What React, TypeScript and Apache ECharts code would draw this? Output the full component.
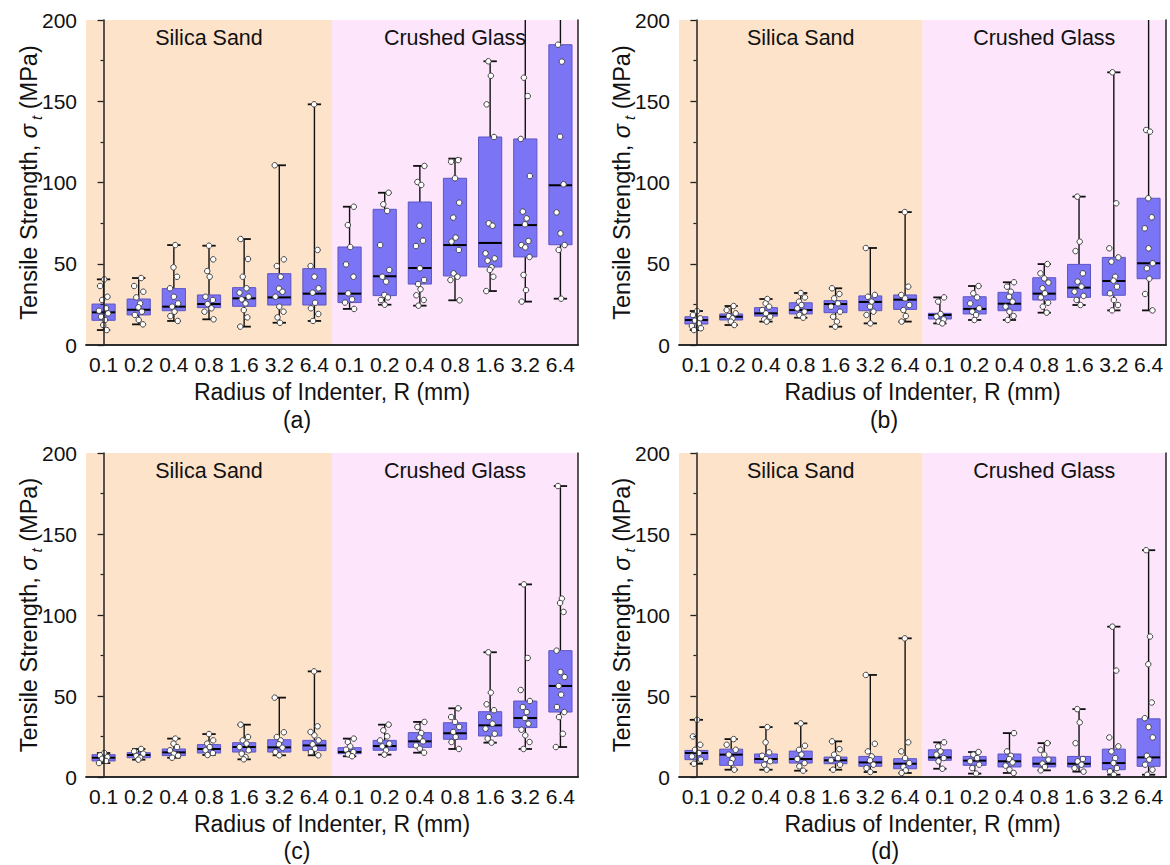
import React, { useEffect, useRef } from 'react';
import * as echarts from 'echarts';

const CATEGORIES = ['0.1', '0.2', '0.4', '0.8', '1.6', '3.2', '6.4', '0.1', '0.2', '0.4', '0.8', '1.6', '3.2', '6.4'];
const REGIONS = ['Silica Sand', 'Crushed Glass'];
const REGION_SPANS = [[-0.5, 6.5], [6.5, 13.5]];
const PANEL_LABELS = ['(a)', '(b)', '(c)', '(d)'];
const X_TITLE = 'Radius of Indenter, R (mm)';
const Y_TITLE_PARTS = ['Tensile Strength, ', 'σ', 't', ' (MPa)'];
const Y_MIN = 0;
const Y_MAX = 200;
const Y_INTERVAL = 50;

// box stats: [min, q1, median, q3, max]
const A_BOX = [
  [9.2, 15.2, 20.1, 25.2, 40.4],
  [12.7, 18.5, 21.7, 28.3, 41.2],
  [14.8, 21.1, 23.6, 34.7, 61.5],
  [15.8, 23.0, 25.2, 30.8, 61.1],
  [11.3, 23.8, 28.7, 35.3, 65.2],
  [13.7, 24.6, 29.3, 43.9, 110.6],
  [14.8, 24.6, 31.6, 47.0, 148.1],
  [22.2, 26.1, 31.6, 60.3, 85.1],
  [24.8, 30.4, 42.3, 83.5, 93.7],
  [24.2, 37.5, 47.4, 88.0, 110.2],
  [27.5, 42.5, 61.5, 102.6, 114.7],
  [33.2, 48.0, 62.8, 128.0, 174.6],
  [26.7, 54.2, 73.8, 126.8, 230],
  [28.5, 61.7, 98.3, 184.8, 240],
];
const A_PTS = [
  [40.4, 36.3, 29.7, 27.7, 22.6, 21.1, 19.5, 17.4, 15.4, 12.3, 9.2],
  [41.2, 36.3, 32.8, 29.3, 25.6, 23.2, 20.5, 18.5, 15.4, 12.7],
  [61.5, 47.8, 42.0, 34.9, 29.7, 25.6, 23.6, 20.5, 17.8, 14.8],
  [61.1, 52.7, 45.5, 42.0, 29.7, 27.7, 25.2, 22.6, 20.5, 15.8],
  [65.2, 52.9, 42.0, 34.9, 32.2, 29.7, 28.1, 25.6, 21.5, 17.0, 11.3],
  [110.6, 52.7, 48.6, 42.0, 34.7, 32.8, 29.7, 23.6, 20.5, 17.0, 13.7],
  [148.1, 58.5, 48.6, 42.0, 34.9, 32.2, 26.0, 22.6, 19.1, 14.8],
  [85.1, 73.8, 60.3, 49.6, 42.0, 31.8, 28.1, 26.1, 22.2],
  [93.7, 86.6, 82.5, 61.5, 46.2, 42.0, 39.0, 30.8, 29.3, 27.7, 24.8],
  [110.2, 100.3, 98.5, 73.4, 64.2, 60.9, 47.2, 40.0, 37.5, 34.3, 30.6, 27.7, 24.2],
  [113.8, 112.8, 102.6, 87.6, 78.4, 66.1, 63.6, 58.5, 44.1, 42.0, 40.0, 27.5],
  [174.6, 165.7, 148.1, 128.0, 74.9, 73.4, 56.4, 53.3, 51.9, 47.8, 46.2, 42.0, 33.2],
  [164.5, 153.2, 126.8, 104.0, 82.1, 77.9, 74.3, 64.0, 61.5, 60.1, 54.2, 43.1, 33.8, 26.7],
  [184.8, 174.4, 128.2, 98.9, 81.6, 68.7, 61.5, 58.5, 28.5],
];

const B_BOX = [
  [9.2, 12.9, 15.4, 17.4, 20.9],
  [12.3, 15.4, 17.4, 19.1, 24.0],
  [14.4, 17.8, 19.5, 23.0, 28.3],
  [16.8, 19.1, 21.5, 26.0, 32.0],
  [11.3, 19.9, 25.2, 27.3, 34.9],
  [13.3, 21.1, 26.5, 30.2, 59.7],
  [14.4, 21.9, 27.9, 30.8, 81.8],
  [13.3, 16.0, 18.5, 19.5, 29.3],
  [15.4, 19.1, 22.2, 29.7, 36.3],
  [15.4, 21.1, 25.4, 32.4, 38.6],
  [19.9, 27.7, 31.6, 41.4, 49.8],
  [24.6, 29.3, 35.3, 49.6, 91.3],
  [21.3, 30.6, 39.4, 53.9, 167.8],
  [21.3, 40.8, 50.3, 90.3, 235],
];
const B_PTS = [
  [20.9, 18.5, 16.4, 15.0, 13.3, 11.7, 10.3, 9.2],
  [24.0, 21.5, 19.5, 17.8, 16.4, 14.4, 12.3],
  [28.3, 25.6, 23.6, 21.5, 19.5, 17.4, 15.8, 14.4],
  [32.0, 29.3, 26.7, 24.6, 22.6, 20.5, 18.5, 16.8],
  [34.9, 31.4, 28.7, 25.6, 23.6, 20.5, 17.4, 14.4, 11.3],
  [59.7, 30.8, 29.7, 26.7, 23.6, 20.5, 18.5, 13.3],
  [81.8, 35.9, 30.8, 28.7, 24.6, 21.5, 17.8, 14.4],
  [29.3, 26.7, 19.1, 17.4, 15.8, 14.4, 13.3],
  [36.3, 31.8, 29.3, 25.6, 22.6, 20.5, 18.5, 15.4],
  [38.6, 35.9, 32.8, 29.7, 26.7, 23.6, 20.5, 17.8, 15.4],
  [49.8, 44.1, 41.0, 38.4, 34.9, 31.8, 29.3, 26.0, 23.6, 19.9],
  [91.3, 63.6, 57.8, 44.1, 39.0, 35.9, 32.8, 30.2, 27.7, 24.6],
  [167.8, 87.2, 59.5, 53.9, 51.3, 42.0, 39.6, 35.9, 31.8, 27.7, 24.6, 21.3],
  [132.3, 131.3, 90.3, 78.6, 71.8, 59.5, 50.3, 47.2, 40.8, 31.4, 21.3],
];

const C_BOX = [
  [8.6, 9.9, 11.9, 13.8, 14.8],
  [10.7, 11.9, 13.6, 15.0, 17.3],
  [11.9, 13.2, 15.2, 17.3, 23.7],
  [13.6, 14.8, 17.3, 20.0, 26.5],
  [10.9, 15.4, 18.5, 21.2, 32.3],
  [13.4, 15.4, 18.3, 23.0, 49.0],
  [13.4, 16.3, 19.5, 22.6, 65.2],
  [12.8, 14.4, 15.4, 18.1, 23.7],
  [13.8, 16.5, 19.1, 22.6, 32.3],
  [15.0, 18.3, 22.0, 27.4, 34.0],
  [17.3, 23.3, 27.0, 33.5, 42.4],
  [21.2, 25.3, 31.9, 40.3, 77.0],
  [17.3, 30.5, 36.4, 46.9, 118.9],
  [18.5, 40.1, 56.2, 78.0, 179.6],
];
const C_PTS = [
  [14.8, 13.4, 12.3, 11.3, 9.9, 8.6],
  [17.3, 15.8, 14.4, 13.0, 11.9, 10.7],
  [23.7, 20.6, 18.5, 16.5, 14.4, 13.2, 11.9],
  [26.5, 22.6, 20.6, 18.5, 16.5, 14.8, 13.6],
  [32.3, 24.7, 22.6, 20.6, 18.5, 16.5, 14.4, 12.3, 10.9],
  [49.0, 27.6, 24.7, 22.6, 20.2, 18.1, 15.4, 13.4],
  [65.2, 31.3, 27.8, 25.7, 22.6, 20.2, 17.5, 15.4, 13.4],
  [23.7, 21.6, 18.9, 16.9, 15.4, 14.0, 12.8],
  [32.3, 28.8, 25.1, 22.6, 20.6, 18.9, 16.5, 13.8],
  [34.0, 30.9, 27.2, 24.3, 22.0, 19.5, 17.5, 15.0],
  [42.4, 37.0, 34.0, 30.9, 27.8, 24.7, 21.6, 17.3],
  [77.0, 52.1, 44.9, 41.2, 37.0, 32.9, 29.8, 26.7, 23.7, 21.2],
  [118.9, 73.5, 53.7, 46.9, 43.2, 40.1, 36.4, 32.9, 29.2, 25.7, 21.6, 17.3],
  [179.6, 110.1, 107.4, 101.9, 78.0, 64.8, 61.7, 56.2, 50.8, 43.2, 40.1, 37.0, 26.7, 18.5],
];

const D_BOX = [
  [8.2, 10.7, 14.8, 16.4, 35.3],
  [4.5, 7.2, 13.8, 17.2, 23.4],
  [4.5, 8.6, 11.1, 14.2, 30.8],
  [3.9, 8.6, 11.1, 16.0, 33.1],
  [4.5, 8.2, 10.3, 12.3, 22.0],
  [3.1, 6.6, 9.0, 12.7, 63.0],
  [2.5, 5.1, 8.2, 11.3, 85.6],
  [5.1, 10.3, 12.1, 16.8, 21.4],
  [2.1, 7.2, 10.1, 12.7, 15.4],
  [2.5, 6.2, 9.7, 14.2, 27.1],
  [4.1, 6.2, 8.2, 12.3, 20.9],
  [3.3, 6.2, 8.2, 12.7, 41.9],
  [1.4, 4.5, 8.6, 17.2, 92.8],
  [1.4, 6.6, 12.1, 35.9, 140.0],
];
const D_PTS = [
  [35.3, 25.0, 19.9, 16.8, 14.8, 12.7, 10.7, 8.2],
  [23.4, 19.9, 16.8, 13.8, 11.1, 8.6, 4.5],
  [30.8, 21.4, 15.2, 13.1, 11.1, 9.7, 7.6, 4.5],
  [33.1, 19.3, 16.8, 13.8, 11.1, 8.6, 6.6, 3.9],
  [22.0, 17.2, 13.8, 11.7, 10.3, 7.6, 4.5],
  [63.0, 20.5, 15.8, 12.7, 10.3, 7.6, 5.5, 3.1],
  [85.6, 21.4, 15.8, 11.7, 8.6, 6.2, 4.1, 2.5],
  [21.4, 18.9, 15.8, 13.8, 11.7, 9.7, 5.1],
  [15.4, 13.8, 11.7, 9.7, 7.6, 5.5, 2.1],
  [27.1, 15.8, 13.1, 11.1, 9.0, 7.0, 4.5, 2.5],
  [20.9, 16.8, 13.8, 10.7, 8.2, 6.2, 4.1],
  [41.9, 33.7, 20.9, 11.1, 9.7, 7.6, 5.5, 3.3],
  [92.8, 65.7, 24.4, 18.9, 15.8, 11.7, 8.6, 5.5, 3.5, 1.4],
  [140.0, 86.7, 69.6, 46.0, 36.3, 30.8, 24.4, 13.1, 10.7, 7.6, 4.5, 1.4],
];

const PANELS = [
  { box: A_BOX, pts: A_PTS },
  { box: B_BOX, pts: B_PTS },
  { box: C_BOX, pts: C_PTS },
  { box: D_BOX, pts: D_PTS },
];

// ---- layout / style (not data) ----
const FONT = 'Liberation Sans, Arial, Helvetica, sans-serif';
const GRIDS = [
  { left: 86, top: 20, width: 492, height: 325 },
  { left: 679, top: 20, width: 487, height: 325 },
  { left: 86, top: 453, width: 492, height: 324 },
  { left: 679, top: 453, width: 487, height: 324 },
];
const PANEL_LABEL_POS = [[297, 420], [884, 420], [297, 851], [885, 851]];
const BG_COLORS = ['#fde3c9', '#fde5fc'];
const BOX_FILL = '#7b74f4';
const BOX_STROKE = '#5d56c4';
// horizontal jitter pattern (fraction of category band) for the dots
const JITTER = [0.02, -0.1, 0.11, -0.04, 0.07, -0.13, 0.13, -0.07, 0.04, -0.01, 0.09, -0.11, 0.0, 0.12, -0.05];

function measure(text: string, size: number, italic = false) {
  const c = document.createElement('canvas').getContext('2d');
  if (!c) return text.length * size * 0.5;
  c.font = `${italic ? 'italic ' : ''}${size}px ${FONT}`;
  return c.measureText(text).width;
}

function renderBox(params: any, api: any) {
  const idx = api.value(0);
  const cx = api.coord([idx, 0])[0];
  const band = api.size([1, 0])[0];
  const bw = band * 0.66;
  const cw = band * 0.38;
  const y = (v: number) => api.coord([idx, v])[1];
  const yMin = y(api.value(1));
  const yQ1 = y(api.value(2));
  const yMed = y(api.value(3));
  const yQ3 = y(api.value(4));
  const yMax = y(api.value(5));
  return {
    type: 'group',
    children: [
      { type: 'line', shape: { x1: cx, y1: yMin, x2: cx, y2: yMax }, style: { stroke: '#111', lineWidth: 1.4 } },
      { type: 'line', shape: { x1: cx - cw / 2, y1: yMax, x2: cx + cw / 2, y2: yMax }, style: { stroke: '#111', lineWidth: 1.8 } },
      { type: 'line', shape: { x1: cx - cw / 2, y1: yMin, x2: cx + cw / 2, y2: yMin }, style: { stroke: '#111', lineWidth: 1.8 } },
      { type: 'rect', shape: { x: cx - bw / 2, y: yQ3, width: bw, height: yQ1 - yQ3 }, style: { fill: BOX_FILL, stroke: BOX_STROKE, lineWidth: 1 } },
      { type: 'line', shape: { x1: cx - bw / 2, y1: yMed, x2: cx + bw / 2, y2: yMed }, style: { stroke: '#000', lineWidth: 2 } },
    ],
  };
}

function renderBg(params: any, api: any) {
  const p0 = api.coord([api.value(0), Y_MAX]);
  const p1 = api.coord([api.value(1), Y_MIN]);
  const i = params.dataIndex;
  return {
    type: 'group',
    children: [
      { type: 'rect', shape: { x: p0[0], y: p0[1], width: p1[0] - p0[0], height: p1[1] - p0[1] }, style: { fill: BG_COLORS[i] } },
      {
        type: 'text',
        x: (p0[0] + p1[0]) / 2,
        y: p0[1] + 18,
        style: { text: REGIONS[i], fontSize: 21.5, fontFamily: FONT, fill: '#111', align: 'center', verticalAlign: 'middle' },
      },
    ],
  };
}

function yTitleGroup(cx: number, cy: number) {
  const MAIN = 23.5;
  const SUB = 15;
  const [p1, sig, sub, p2] = Y_TITLE_PARTS;
  const w1 = measure(p1, MAIN);
  const ws = measure(sig, MAIN, true);
  const gap = 4;
  const wt = measure(sub, SUB, true);
  const w2 = measure(p2, MAIN);
  const total = w1 + ws + gap + wt + w2;
  let x = -total / 2;
  const base = { fontFamily: FONT, fill: '#111', align: 'left', verticalAlign: 'middle' };
  const children: any[] = [];
  children.push({ type: 'text', x, y: 0, style: { ...base, text: p1, fontSize: MAIN } });
  x += w1;
  children.push({ type: 'text', x, y: 0, style: { ...base, text: sig, fontSize: MAIN, fontStyle: 'italic' } });
  x += ws + gap;
  children.push({ type: 'text', x, y: 7, style: { ...base, text: sub, fontSize: SUB, fontStyle: 'italic' } });
  x += wt;
  children.push({ type: 'text', x, y: 0, style: { ...base, text: p2, fontSize: MAIN } });
  return { type: 'group', x: cx, y: cy, rotation: Math.PI / 2, children };
}

function buildOption() {
  const grid: any[] = [];
  const xAxis: any[] = [];
  const yAxis: any[] = [];
  const series: any[] = [];
  const graphic: any[] = [];
  const lineStyle = { color: '#222', width: 1.5 };

  PANELS.forEach((panel, p) => {
    const g = GRIDS[p];
    grid.push({ ...g, containLabel: false });
    xAxis.push({
      type: 'category',
      gridIndex: p,
      data: CATEGORIES,
      boundaryGap: true,
      z: 10,
      axisLine: { lineStyle },
      axisTick: { alignWithLabel: true, length: 5, inside: false, lineStyle: { color: '#222', width: 1.3 } },
      axisLabel: { color: '#111', fontSize: 21, fontFamily: FONT, margin: 9, interval: 0 },
      name: X_TITLE,
      nameLocation: 'middle',
      nameGap: 35,
      nameTextStyle: { color: '#111', fontSize: 23, fontFamily: FONT },
    });
    xAxis.push({
      type: 'value',
      gridIndex: p,
      position: 'top',
      min: -0.5,
      max: 13.5,
      z: 10,
      axisLine: { show: true, lineStyle },
      axisTick: { show: false },
      axisLabel: { show: false },
      splitLine: { show: false },
    });
    yAxis.push({
      type: 'value',
      gridIndex: p,
      min: Y_MIN,
      max: Y_MAX,
      interval: Y_INTERVAL,
      z: 10,
      axisLine: { show: true, lineStyle },
      axisTick: { show: true, length: 6, lineStyle: { color: '#222', width: 1.3 } },
      minorTick: { show: true, splitNumber: 2, length: 3, lineStyle: { color: '#222', width: 1.2 } },
      axisLabel: { color: '#111', fontSize: 21, fontFamily: FONT, margin: 9 },
      splitLine: { show: false },
    });
    yAxis.push({
      type: 'value',
      gridIndex: p,
      position: 'right',
      min: Y_MIN,
      max: Y_MAX,
      interval: Y_INTERVAL,
      z: 10,
      axisLine: { show: true, lineStyle },
      axisTick: { show: false },
      axisLabel: { show: false },
      splitLine: { show: false },
    });

    series.push({
      type: 'custom',
      xAxisIndex: 2 * p + 1,
      yAxisIndex: 2 * p,
      z: 0,
      silent: true,
      renderItem: renderBg,
      data: REGION_SPANS,
    });
    series.push({
      type: 'custom',
      xAxisIndex: 2 * p,
      yAxisIndex: 2 * p,
      z: 2,
      clip: true,
      renderItem: renderBox,
      encode: { x: 0, y: [1, 2, 3, 4, 5] },
      data: panel.box.map((b, i) => [i, ...b]),
    });
    const dots: number[][] = [];
    panel.pts.forEach((arr, i) => {
      arr.forEach((v, j) => {
        dots.push([i + JITTER[(j + i * 4) % JITTER.length], v]);
      });
    });
    series.push({
      type: 'scatter',
      xAxisIndex: 2 * p + 1,
      yAxisIndex: 2 * p,
      z: 3,
      clip: true,
      symbol: 'circle',
      symbolSize: 5.5,
      itemStyle: { color: '#ffffff', borderColor: '#444', borderWidth: 1, opacity: 1 },
      data: dots,
    });

    graphic.push(yTitleGroup(g.left - 57, g.top + g.height / 2));
    graphic.push({
      type: 'text',
      x: PANEL_LABEL_POS[p][0],
      y: PANEL_LABEL_POS[p][1],
      style: { text: PANEL_LABELS[p], fontSize: 23, fontFamily: FONT, fill: '#111', align: 'center', verticalAlign: 'middle' },
    });
  });

  return {
    animation: false,
    backgroundColor: '#ffffff',
    grid,
    xAxis,
    yAxis,
    series,
    graphic,
  };
}

export default function App() {
  const ref = useRef<HTMLDivElement>(null);
  useEffect(() => {
    if (!ref.current) return;
    const chart = echarts.init(ref.current, undefined, { renderer: 'svg' });
    chart.setOption(buildOption() as any);
    return () => chart.dispose();
  }, []);
  return <div ref={ref} style={{ position: 'fixed', left: 0, top: 0, width: 1170, height: 865, background: '#fff' }} />;
}
